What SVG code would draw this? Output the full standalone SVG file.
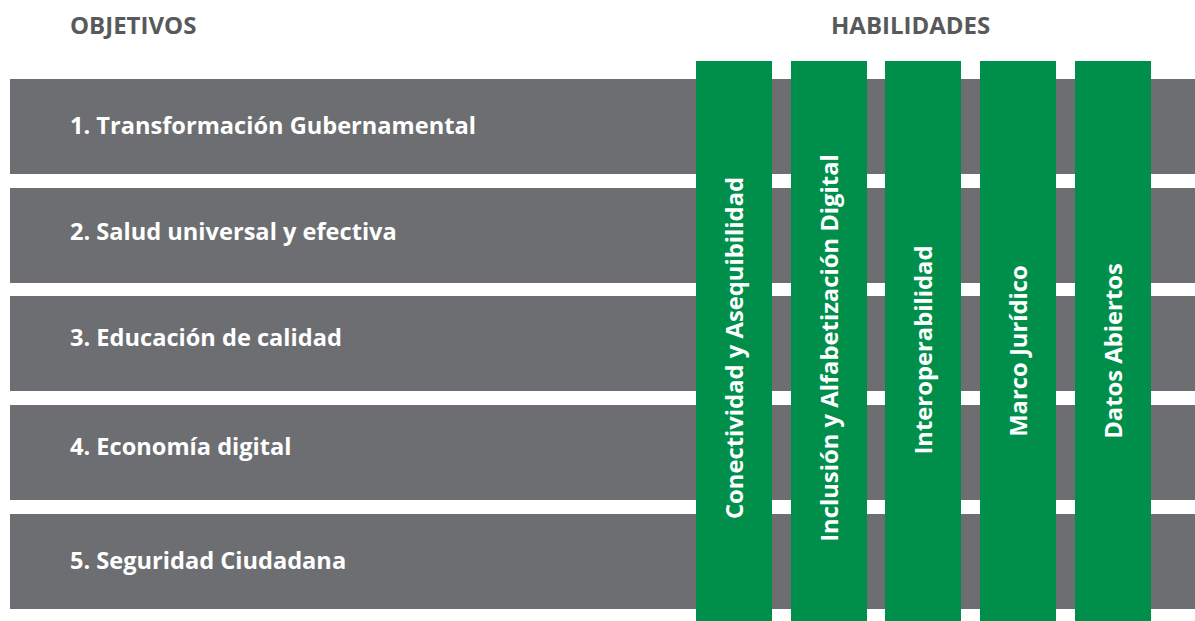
<svg xmlns="http://www.w3.org/2000/svg" width="1195" height="621" viewBox="0 0 1195 621">
<style>
.row{fill:#6d6e71}
.col{fill:#008f4a}
.hdr{font-family:"Open Sans","Liberation Sans",sans-serif;font-weight:700;font-size:24px;fill:#58595b}
.lbl{font-family:"Open Sans","Liberation Sans",sans-serif;font-weight:700;font-size:23.6px;fill:#ffffff}
.vl{font-family:"Open Sans","Liberation Sans",sans-serif;font-weight:700;font-size:23.8px;fill:#ffffff;text-anchor:middle;dominant-baseline:central}
</style>
<rect width="1195" height="621" fill="#ffffff"/>
<text class="hdr" x="70" y="34">OBJETIVOS</text>
<text class="hdr" x="831" y="34">HABILIDADES</text>
<g id="objetivo-1"><rect class="row" x="10" y="79" width="1185" height="95"/><text class="lbl" x="70" y="134">1. Transformación Gubernamental</text></g>
<g id="objetivo-2"><rect class="row" x="10" y="188" width="1185" height="95"/><text class="lbl" x="70" y="240">2. Salud universal y efectiva</text></g>
<g id="objetivo-3"><rect class="row" x="10" y="296" width="1185" height="95"/><text class="lbl" x="70" y="346">3. Educación de calidad</text></g>
<g id="objetivo-4"><rect class="row" x="10" y="405" width="1185" height="95"/><text class="lbl" x="70" y="455">4. Economía digital</text></g>
<g id="objetivo-5"><rect class="row" x="10" y="514" width="1185" height="95"/><text class="lbl" x="70" y="569">5. Seguridad Ciudadana</text></g>
<g id="habilidad-1"><rect class="col" x="696" y="61" width="76" height="560"/><text class="vl" transform="translate(734 348) rotate(-90)">Conectividad y Asequibilidad</text></g>
<g id="habilidad-2"><rect class="col" x="791" y="61" width="76" height="560"/><text class="vl" transform="translate(829 348) rotate(-90)">Inclusión y Alfabetización Digital</text></g>
<g id="habilidad-3"><rect class="col" x="885" y="61" width="76" height="560"/><text class="vl" transform="translate(923 350) rotate(-90)">Interoperabilidad</text></g>
<g id="habilidad-4"><rect class="col" x="980" y="61" width="76" height="560"/><text class="vl" transform="translate(1018 351) rotate(-90)">Marco Jurídico</text></g>
<g id="habilidad-5"><rect class="col" x="1075" y="61" width="76" height="560"/><text class="vl" transform="translate(1113 351) rotate(-90)">Datos Abiertos</text></g>
<g id="connectors"/>
</svg>
